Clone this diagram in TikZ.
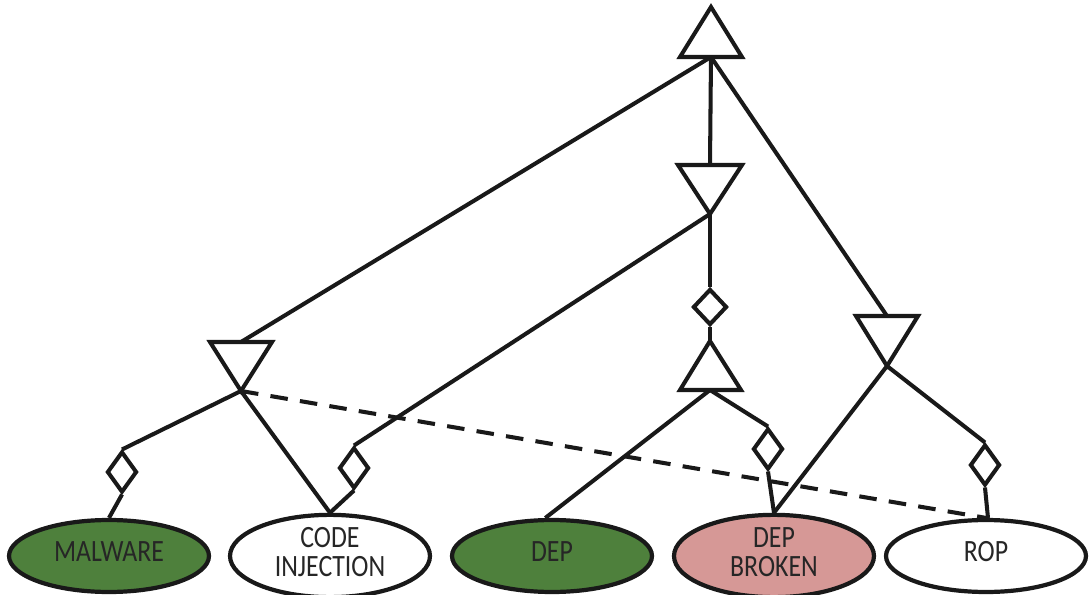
\documentclass[tikz,border=0pt]{standalone}
\usepackage{fontspec}
\setmainfont{Carlito}
\usepackage{tikz}
\usetikzlibrary{shapes.geometric, calc}
\definecolor{leafgreen}{RGB}{78,128,60}
\definecolor{leafpink}{RGB}{214,152,150}
% leaf labels are set a little taller than wide, as in the source figure
\newcommand{\leaftext}[1]{\scalebox{1}[1.2]{\begin{tabular}{@{}c@{}}#1\end{tabular}}}
\tikzset{
  edge/.style={
    line width=2.3pt,
    color=black!90
  },
  gate/.style={
    line width=2.3pt,
    draw=black!90,
    fill=white,
    line join=miter
  },
  leaf/.style={
    ellipse,
    draw=black!90,
    line width=2.4pt,
    minimum width=4.0cm,
    minimum height=1.44cm,
    inner sep=0pt,
    align=center,
    text=black!85,
    font=\fontsize{14.7}{13.8}\selectfont
  },
  choice/.style={
    diamond,
    draw=black!90,
    line width=2.3pt,
    fill=white,
    minimum width=0.6cm,
    minimum height=0.82cm,
    inner sep=0pt
  },
  link/.style={
    edge,
    dashed,
    dash pattern=on 10pt off 7pt
  }
}

\begin{document}
\begin{tikzpicture}[x=0.02cm, y=-0.02cm]
    \useasboundingbox (0,0) rectangle (1090,595);

    % leaves
    \node[leaf, fill=leafgreen] (mal)  at (109,556) {\leaftext{MALWARE}};
    \node[leaf, fill=white]     (code) at (330,556) {\leaftext{CODE\\INJECTION}};
    \node[leaf, fill=leafgreen] (dep)  at (552,556) {\leaftext{DEP}};
    \node[leaf, fill=leafpink]  (depb) at (774,556) {\leaftext{DEP\\BROKEN}};
    \node[leaf, fill=white]     (rop)  at (986,556) {\leaftext{ROP}};

    % gate ports (in = top side, out = bottom side)
    \coordinate (top out) at (711,57);
    \coordinate (mid in)  at (710,165);
    \coordinate (mid out) at (710,214);
    \coordinate (lft in)  at (241,342);
    \coordinate (lft out) at (241,391);
    \coordinate (rgt in)  at (887,316);
    \coordinate (rgt out) at (887,366);
    \coordinate (low in)  at (710,341);
    \coordinate (low out) at (710,390);

    % diamonds
    \node[choice, minimum width=0.68cm, minimum height=0.72cm] (c mid) at (710,307) {};
    \node[choice] (c mal)  at (122,472) {};
    \node[choice] (c code) at (354,468) {};
    \node[choice] (c depb) at (768,449) {};
    \node[choice] (c rop)  at (985,465) {};

    % connectors
    \draw[edge] (top out) -- (lft in);
    \draw[edge] (top out) -- (mid in);
    \draw[edge] (top out) -- (rgt in);
    \draw[edge] (mid out) -- (c mid.north);
    \draw[edge] (c mid.south) -- (low in);
    \draw[edge] (mid out) -- (c code.north);
    \draw[edge] (lft out) -- (c mal.north);
    \draw[edge] (c mal.south) -- (mal.north);
    \draw[edge] (lft out) -- (code.north);
    \draw[edge] (c code.south) -- (code.north);
    \draw[edge] (low out) -- (dep.100);
    \draw[edge] (low out) -- (c depb.north);
    \draw[edge] (c depb.south) -- (depb.north);
    \draw[edge] (rgt out) -- (depb.north);
    \draw[edge] (rgt out) -- (c rop.north);
    \draw[edge] (c rop.south) -- (rop.87);
    \draw[link] (lft out) -- (rop.north);

    % gates: up = and, down = or
    \draw[gate] (680,57) -- (711,7) -- (742,57) -- cycle;
    \draw[gate] (678,165) -- (742,165) -- (mid out) -- cycle;
    \draw[gate] (210,342) -- (272,342) -- (lft out) -- cycle;
    \draw[gate] (856,316) -- (918,316) -- (rgt out) -- cycle;
    \draw[gate] (680,390) -- (low in) -- (741,390) -- cycle;
\end{tikzpicture}
\end{document}
